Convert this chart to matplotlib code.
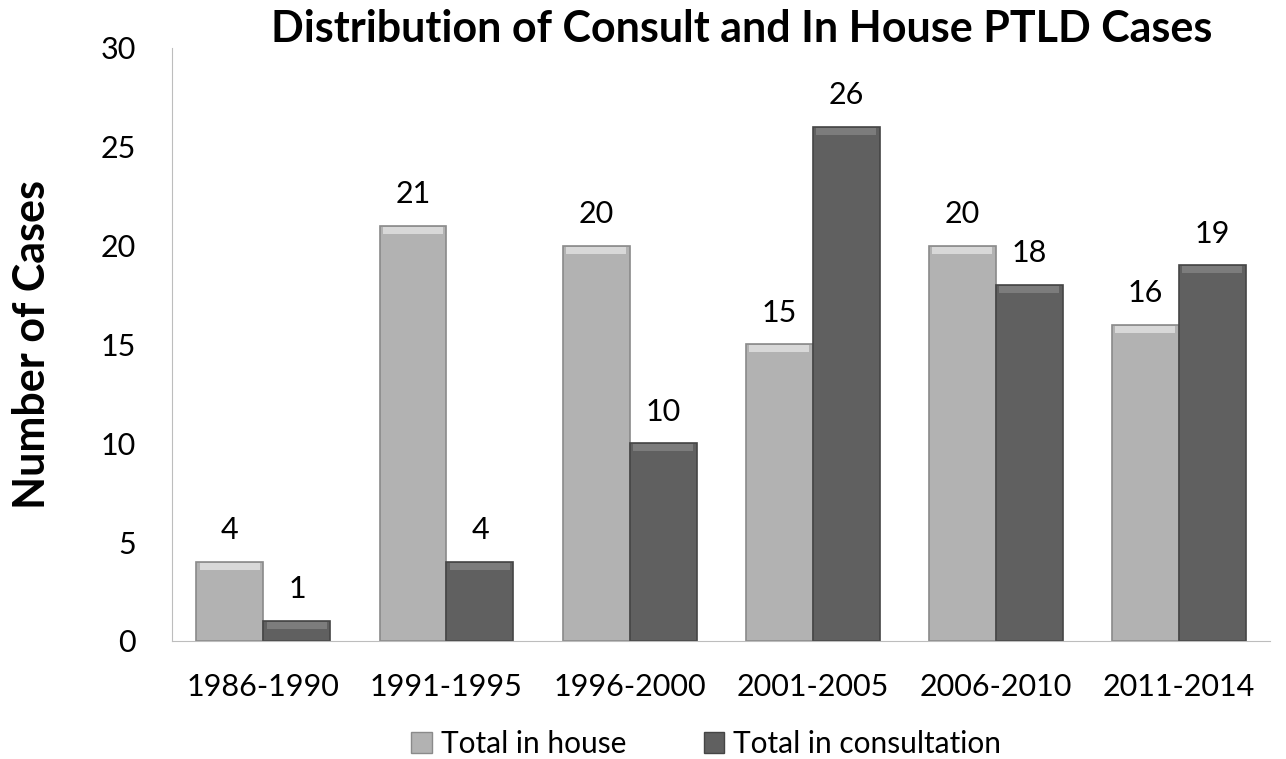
import matplotlib.pyplot as plt
import numpy as np
from matplotlib.patches import Patch

periods = ["1986-1990", "1991-1995", "1996-2000", "2001-2005", "2006-2010", "2011-2014"]
in_house = [4, 21, 20, 15, 20, 16]
consultation = [1, 4, 10, 26, 18, 19]

plt.rcParams["font.family"] = ["Lato", "DejaVu Sans"]

fig = plt.figure(figsize=(12.86, 7.59), dpi=100)
ax = fig.add_axes([0.1337, 0.1555, 0.854, 0.7813])

x = np.arange(len(periods))
w = 0.366
light, dark = "#b2b2b2", "#606060"

for vals, off, col, top in [(in_house, -w / 2, light, "#d8d8d8"),
                            (consultation, w / 2, dark, "#7c7c7c")]:
    ax.bar(x + off, vals, w, color=col, edgecolor="#8a8a8a" if col == light else "#454545",
           linewidth=1.2, zorder=2)
    # bevel highlight along the top
    ax.bar(x + off, [0.35] * len(vals), w * 0.9, bottom=np.array(vals) - 0.4,
           color=top, linewidth=0, zorder=3)
    for xi, v in zip(x + off, vals):
        ax.text(xi, v + 0.9, str(v), ha="center", va="bottom", fontsize=22)

ax.set_xlim(-0.5, len(periods) - 0.5)
ax.set_ylim(0, 30)
ax.set_yticks(range(0, 31, 5))
ax.set_xticks(x)
ax.set_xticklabels(periods)
ax.tick_params(axis="both", length=0, labelsize=22)
ax.tick_params(axis="x", pad=23)
ax.tick_params(axis="y", pad=26)
for s in ["top", "right"]:
    ax.spines[s].set_visible(False)
for s in ["left", "bottom"]:
    ax.spines[s].set_color("#bdbdbd")

ax.set_ylabel("Number of Cases", fontsize=31, fontweight="bold", labelpad=35)
fig.text(0.577, 0.962, "Distribution of Consult and In House PTLD Cases",
         ha="center", va="center", fontsize=31, fontweight="bold")

handles = [Patch(facecolor=light, edgecolor="#8a8a8a", label="Total in house"),
           Patch(facecolor=dark, edgecolor="#454545", label="Total in consultation")]
fig.legend(handles=handles, loc="center", bbox_to_anchor=(0.549, 0.02), ncol=2,
           frameon=False, fontsize=21.5, handlelength=0.7, handleheight=0.7,
           handletextpad=0.3, columnspacing=2.6)

fig.savefig("out.png", dpi=100)
